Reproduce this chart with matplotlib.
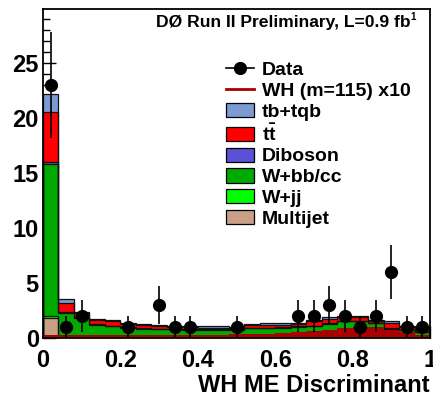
import numpy as np
import matplotlib.pyplot as plt
from matplotlib.lines import Line2D
from matplotlib.patches import Patch

plt.rcParams['font.family'] = ['Liberation Sans', 'DejaVu Sans']
plt.rcParams['font.weight'] = 'bold'
plt.rcParams['mathtext.fontset'] = 'custom'
plt.rcParams['mathtext.rm'] = 'Liberation Sans:bold'
plt.rcParams['mathtext.bf'] = 'Liberation Sans:bold'

# 25 bins of width 0.04
edges = np.linspace(0, 1, 26)

data = [23, 1, 2, 0, 0, 1, 0, 3, 1, 1, 0, 0, 1, 0, 0, 0, 2, 2, 3, 2, 1, 2, 6, 1, 1]

multijet = [1.8, 0.1, 0.08, 0.06, 0.05, 0.05, 0.05, 0.04, 0.04, 0.04, 0.04, 0.04, 0.04,
            0.04, 0.04, 0.04, 0.04, 0.04, 0.04, 0.04, 0.04, 0.03, 0.03, 0.03, 0.02]
wjj = [0.2, 0.1, 0.08, 0.06, 0.05, 0.05, 0.05, 0.05, 0.05, 0.05, 0.05, 0.05, 0.05,
       0.05, 0.05, 0.05, 0.05, 0.05, 0.05, 0.05, 0.05, 0.05, 0.05, 0.05, 0.05]
wbb = [13.8, 2.1, 1.69, 1.08, 0.95, 0.85, 0.75, 0.71, 0.69, 0.66, 0.66, 0.66, 0.66,
       0.81, 0.81, 0.86, 0.91, 0.96, 1.21, 1.41, 1.41, 1.27, 0.77, 0.62, 0.43]
diboson = [0.15, 0.05, 0.05, 0.05, 0.05, 0.05, 0.05, 0.05, 0.05, 0.05, 0.05, 0.05, 0.05,
           0.05, 0.05, 0.05, 0.05, 0.05, 0.05, 0.05, 0.05, 0.05, 0.05, 0.05, 0.05]
ttbar = [4.55, 0.85, 0.4, 0.35, 0.4, 0.3, 0.3, 0.25, 0.17, 0.2, 0.15, 0.15, 0.1,
         0.2, 0.25, 0.2, 0.2, 0.4, 0.4, 0.35, 0.35, 0.1, 0.5, 0.25, 0.15]
tbtqb = [1.7, 0.3, 0.1, 0.1, 0.1, 0.1, 0.1, 0.1, 0.1, 0.1, 0.1, 0.1, 0.12,
         0.15, 0.15, 0.15, 0.15, 0.12, 0.12, 0.1, 0.1, 0.1, 0.1, 0.1, 0.1]
signal = [0.3, 0.25, 0.25, 0.25, 0.25, 0.25, 0.3, 0.3, 0.3, 0.3, 0.3, 0.3, 0.35,
          0.35, 0.4, 0.45, 0.5, 0.6, 0.75, 0.9, 1.0, 1.0, 0.75, 0.55, 0.3]

stack = [('Multijet', multijet, '#c9a086'),
         ('W+jj', wjj, '#00ff00'),
         ('W+bb/cc', wbb, '#00aa00'),
         ('Diboson', diboson, '#5a52d6'),
         (r't$\bar{\mathrm{t}}$', ttbar, '#ff0000'),
         ('tb+tqb', tbtqb, '#7b9bd2')]

fig = plt.figure(figsize=(4.33, 3.96), dpi=100)
ax = fig.add_axes([43/433, 1-338/396, 387/433, 329/396])

bottom = np.zeros(25)
for name, vals, col in stack:
    vals = np.array(vals)
    ax.stairs(bottom + vals, edges, baseline=bottom, fill=True, color=col, zorder=1)
    ax.stairs(bottom + vals, edges, color='#111111', lw=0.9, zorder=1.1)
    bottom = bottom + vals

ax.stairs(signal, edges, fill=True, color='#aa0000', zorder=1.5)

centers = 0.5*(edges[1:] + edges[:-1])
d = np.array(data, dtype=float)
m = d > 0
ax.errorbar(centers[m], d[m], yerr=np.sqrt(d[m]), fmt='o', color='black',
            ms=8.5, elinewidth=1.2, capsize=0, zorder=3)

ax.set_xlim(0, 1)
ax.set_ylim(0, 29.9)
ax.set_axisbelow(True)
ax.set_xticks([0, 0.2, 0.4, 0.6, 0.8, 1.0])
ax.set_xticklabels(['0', '0.2', '0.4', '0.6', '0.8', '1'])
ax.set_xticks(np.arange(0, 1.001, 0.04), minor=True)
ax.set_yticks([0, 5, 10, 15, 20, 25])
ax.set_yticks(np.arange(0, 30, 1), minor=True)
ax.tick_params(which='both', direction='in', labelsize=17, width=1)
ax.tick_params(which='major', length=9)
ax.tick_params(which='minor', length=5)
ax.tick_params(axis='x', pad=8)
ax.tick_params(axis='y', pad=3)
for s in ax.spines.values():
    s.set_linewidth(1.3)

fig.text(430/433, 1-392/396, 'WH ME Discriminant', ha='right', va='baseline',
         fontsize=17, fontweight='bold')
fig.text(411/433, 1-27/396, 'DØ Run II Preliminary, L=0.9 fb', ha='right',
         va='baseline', fontsize=12.6, fontweight='bold')
fig.text(410/433, 1-20/396, '1', ha='left', va='baseline', fontsize=7,
         fontweight='bold')

handles = [Line2D([], [], color='black', marker='o', ms=8.5, lw=1.2),
           Line2D([], [], color='#aa0000', lw=2)]
labels = ['Data', 'WH (m=115) x10']
for name, vals, col in stack[::-1]:
    handles.append(Patch(facecolor=col, edgecolor='black', lw=0.9))
    labels.append(name)
ax.legend(handles, labels, loc='upper left', bbox_to_anchor=(226/433, 1-61/396),
          bbox_transform=fig.transFigure, frameon=False, fontsize=14,
          borderpad=0, borderaxespad=0, labelspacing=0.15, handlelength=1.45,
          handleheight=0.75, handletextpad=0.4, numpoints=1)

fig.savefig('out.png', dpi=100)
